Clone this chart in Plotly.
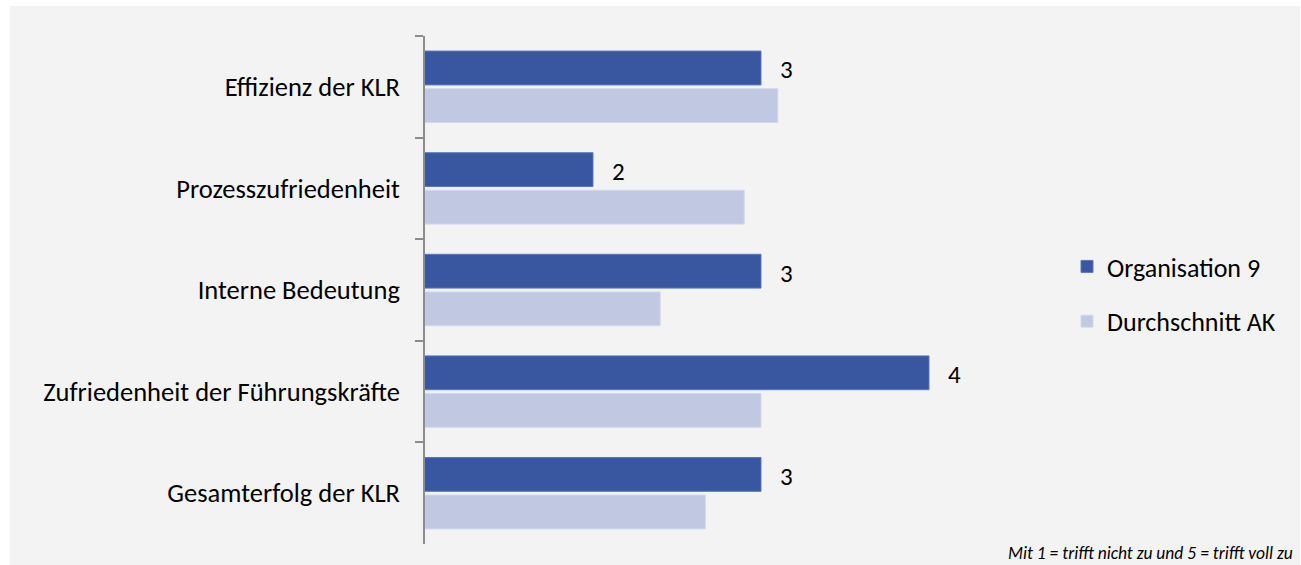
import plotly.graph_objects as go

categories = ["Effizienz der KLR", "Prozesszufriedenheit", "Interne Bedeutung",
              "Zufriedenheit der Führungskräfte", "Gesamterfolg der KLR"]
org9 = [3, 2, 3, 4, 3]
avg_ak = [3.1, 2.9, 2.4, 3.0, 2.67]
org9_labels = ["3", "2", "3", "4", "3"]

W, H = 1301, 565
L, R, T, B = 425, 251, 36, 21
pw = W - L - R
ph = H - T - B
FONT = "Carlito, Lato, sans-serif"

def px(x):
    return (x - L) / pw

def py(y):
    return (H - B - y) / ph

fig = go.Figure()
fig.add_trace(go.Bar(
    y=categories, x=org9, orientation="h", name="Organisation 9",
    marker=dict(color="#3857A0", line=dict(color="#5a78bd", width=1)),
    legendgroup="a", hoverinfo="skip"))
fig.add_trace(go.Bar(
    y=categories, x=avg_ak, orientation="h", name="Durchschnitt AK",
    marker=dict(color="#C1C9E2", line=dict(color="#d3d9ec", width=1)),
    legendgroup="b", hoverinfo="skip"))

for c, v, t in zip(categories, org9, org9_labels):
    fig.add_annotation(x=v, y=c, text=t, showarrow=False, xanchor="left",
                       xshift=17, yshift=17, yanchor="middle",
                       font=dict(family=FONT, size=25, color="#000000"))

fig.add_annotation(xref="paper", yref="paper", x=px(1295), y=py(553),
                   text="<i>Mit 1 = trifft nicht zu und 5 = trifft voll zu</i>",
                   showarrow=False, xanchor="right", yanchor="middle",
                   font=dict(family=FONT, size=17.5, color="#000000"))

fig.add_shape(type="rect", xref="paper", yref="paper",
              x0=px(10), x1=px(1300), y0=py(566), y1=py(6),
              fillcolor="#F3F3F3", line=dict(width=0), layer="below")

fig.update_layout(
    width=W, height=H,
    margin=dict(l=L, r=R, t=T, b=B, pad=0),
    paper_bgcolor="#FFFFFF", plot_bgcolor="rgba(0,0,0,0)",
    barmode="group", bargap=0.26, bargroupgap=0.1,
    font=dict(family=FONT, size=26, color="#000000"),
    showlegend=True,
    legend=dict(x=px(1067), y=py(243), xanchor="left", yanchor="top",
                traceorder="grouped", tracegroupgap=18,
                font=dict(family=FONT, size=26), bgcolor="rgba(0,0,0,0)",
                itemwidth=30),
    xaxis=dict(range=[1, 1 + pw / 168.0], visible=False, showgrid=False, zeroline=False),
    yaxis=dict(autorange="reversed", showline=True, linecolor="#8c8c8c", linewidth=1.5,
               ticks="outside", tickson="boundaries", ticklen=8, tickcolor="#8c8c8c",
               tickwidth=1.5, showgrid=False, ticklabelstandoff=18,
               tickfont=dict(family=FONT, size=26.5)),
)

fig.write_html("out.html", config={"displayModeBar": False},
               post_script="document.body.style.margin='0';document.body.style.overflow='hidden';")
